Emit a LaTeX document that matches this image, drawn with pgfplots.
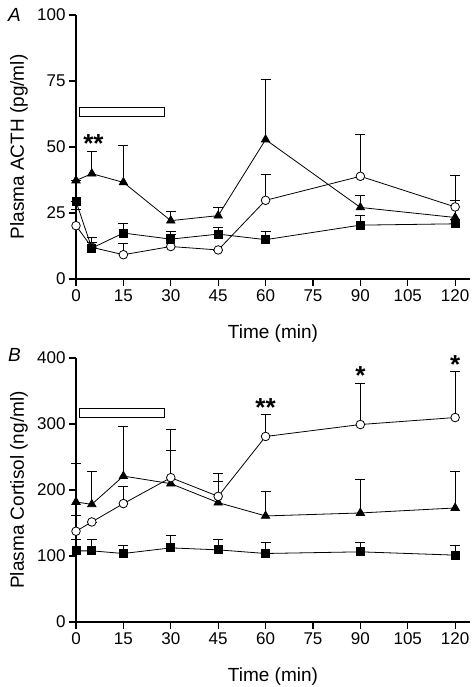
\documentclass[border=0pt]{standalone}
\usepackage{fontspec}
\setmainfont{Liberation Sans}
\usepackage{pgfplots}
\pgfplotsset{compat=1.18}
\usepackage{pgfplotstable}

% Panel A: ACTH
\pgfplotstableread{
x y e
0 37.3 0
5 39.9 8.4
15 36.6 13.9
30 22.1 3.5
45 24.0 3.0
60 52.8 22.7
90 27.1 4.6
120 23.3 6.5
}\Atri
\pgfplotstableread{
x y e
0 29.4 0
5 11.7 4.2
15 17.4 3.5
30 15.1 3.0
45 17.0 2.5
60 14.9 3.1
90 20.4 3.7
120 20.9 1.5
}\Asq
\pgfplotstableread{
x y e
0 20.2 6.3
5 12.0 2.0
15 9.2 4.2
30 12.3 4.5
45 11.0 0
60 29.8 10.0
90 38.9 16.0
120 27.3 12.1
}\Acirc
% Panel B: Cortisol
\pgfplotstableread{
x y e
0 181.8 59
5 178.3 50
15 221.1 75
30 209.6 50.4
45 180.9 32
60 160.7 37.7
90 165.2 51
120 172.8 56
}\Btri
\pgfplotstableread{
x y e
0 137.5 24
5 151.6 0
15 179.4 26
30 218.7 72.5
45 190.4 35
60 281.1 33
90 299.2 62.4
120 309.8 70
}\Bcirc
\pgfplotstableread{
x y e
0 107.8 17
5 107.8 17.6
15 103.8 12.6
30 112.3 19.2
45 109.3 16
60 103.8 16.6
90 106.3 13.6
120 101.3 14.6
}\Bsq

\tikzset{star/.style={font=\bfseries\fontsize{26}{26}\selectfont, anchor=base, inner sep=0pt}}
\pgfplotsset{
 panel/.style={
  scale only axis, width=394pt, height=264pt,
  xmin=0, xmax=124.7, ymin=0,
  axis x line*=bottom, axis y line*=left,
  axis line style={line width=1.1pt},
  tick style={line width=1.1pt, black},
  tick align=outside, major tick length=7pt,
  xtick={0,15,...,120},
  tick label style={font=\fontsize{17}{20}\selectfont},
  label style={font=\fontsize{19}{22}\selectfont},
  /pgf/number format/assume math mode=true,
  clip=false,
  xlabel={Time (min)},
  xlabel style={at={(axis description cs:0.5,-0.205)}, anchor=center},
  ylabel style={at={(axis description cs:-0.145,0.5)}, anchor=center},
  every axis plot/.append style={black, line width=0.8pt},
  error bars/y dir=plus, error bars/y explicit,
  error bars/error bar style={line width=0.8pt, black},
  error bars/error mark options={rotate=90, mark size=5pt, line width=0.8pt, black},
 },
 tri/.style={mark=triangle*, mark size=4.8pt, mark options={solid, fill=black}},
 sq/.style={mark=square*, mark size=4pt, mark options={solid, fill=black}},
 circ/.style={mark=*, mark size=4.3pt, mark options={solid, fill=white}},
}

\begin{document}
\begin{tikzpicture}
\useasboundingbox (0,0) rectangle (472pt,687pt);
\begin{axis}[panel, at={(76pt,408pt)}, anchor=south west,
  ymax=100, ytick={0,25,50,75,100},
  ylabel={Plasma ACTH (pg/ml)}]
\draw[line width=0.9pt, fill=white] (axis cs:1,61.6) rectangle (axis cs:28,64.8);
\addplot[tri] table[x=x, y=y, y error=e] {\Atri};
\addplot[circ] table[x=x, y=y, y error=e] {\Acirc};
\addplot[sq] table[x=x, y=y, y error=e] {\Asq};
\node[star] at (axis cs:5.5,47.8) {**};
\end{axis}
\begin{axis}[panel, at={(76pt,65pt)}, anchor=south west,
  ymax=400, ytick={0,100,200,300,400},
  ylabel={Plasma Cortisol (ng/ml)}]
\draw[line width=0.9pt, fill=white] (axis cs:1,309.3) rectangle (axis cs:28,322.9);
\addplot[tri] table[x=x, y=y, y error=e] {\Btri};
\addplot[circ] table[x=x, y=y, y error=e] {\Bcirc};
\addplot[sq] table[x=x, y=y, y error=e] {\Bsq};
\node[star] at (axis cs:60,311) {**};
\node[star] at (axis cs:90,359.7) {*};
\node[star] at (axis cs:120,377) {*};
\end{axis}
\node[font=\fontsize{19}{22}\selectfont\itshape] at (14.5pt,672pt) {A};
\node[font=\fontsize{19}{22}\selectfont\itshape] at (14.5pt,332pt) {B};
\end{tikzpicture}
\end{document}
